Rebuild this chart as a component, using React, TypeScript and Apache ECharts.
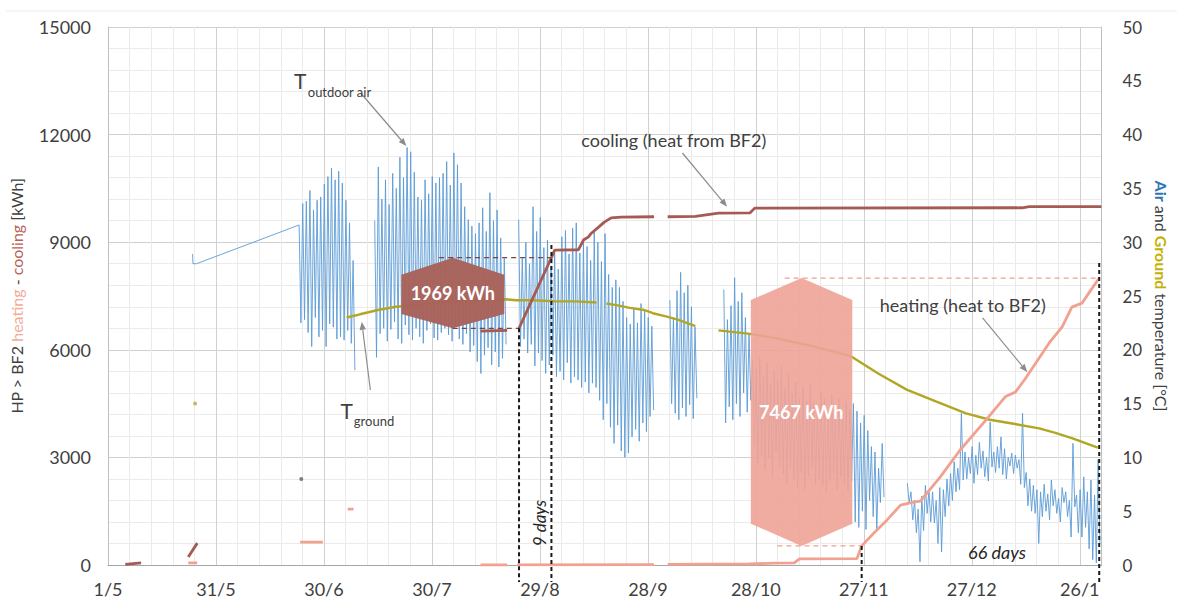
import React, { useEffect, useRef } from "react";
import * as echarts from "echarts";

const FONT = "Lato, 'Open Sans', sans-serif";

// x axis: days counted from 1 May, a label every 30 days, axis ends on 1 Feb
const dayTickLabels = ["1/5", "31/5", "30/6", "30/7", "29/8", "28/9", "28/10", "27/11", "27/12", "26/1"];
const X_MAX = 276;

// Outdoor air temperature [°C]: a few early readings, then daily highs / lows per logging period
const airEarly = [
  [23.5, 28.9],
  [23.6, 28.0],
  [24.6, 28.0],
];
const airJunStart = 53;
const airJunHigh = [31.6, 33.6, 33.8, 34.8, 33.0, 33.9, 34.2, 35.4, 36.1, 36.9, 35.8, 36.6, 35.5, 33.9, 31.8, 28.3];
const airJunLow = [22.5, 22.8, 21.6, 20.3, 23.0, 21.2, 21.8, 20.3, 22.4, 22.1, 21.0, 21.2, 20.9, 21.8, 20.6, 18.1];

const airJulStart = 74;
const airJulHigh = [32.0, 37.0, 34.0, 35.8, 33.5, 36.4, 35.0, 37.9, 36.0, 38.8, 38.4, 36.5, 34.2, 33.9, 35.8, 34.5, 36.1, 35.5, 36.0, 36.4, 37.5, 35.3, 38.3, 37.2, 35.5, 33.3, 32.1, 31.5, 30.8, 31.8, 33.2, 31.0, 34.6, 32.0, 33.0, 30.4, 28.5];
const airJulLow = [19.3, 21.5, 22.0, 20.8, 21.9, 22.6, 21.0, 20.6, 22.3, 21.4, 20.9, 22.0, 21.2, 20.6, 21.8, 22.4, 21.1, 20.9, 21.6, 22.0, 21.4, 20.8, 22.2, 21.0, 20.5, 21.5, 19.8, 20.4, 18.9, 17.8, 19.5, 20.2, 18.6, 19.8, 18.4, 19.2, 20.5];

const airAugStart = 114;
const airAugHigh = [32.1, 28.5, 30.0, 28.0, 33.3, 31.0, 32.3, 29.5, 30.2, 27.8, 29.0, 27.5, 30.5, 31.1, 28.9, 31.3, 31.8, 29.0, 30.1, 29.6, 28.3, 31.1, 30.0, 28.2, 30.8, 27.0, 25.8, 26.5, 25.8, 24.5, 23.0, 22.4, 23.8, 22.5, 24.3, 23.6, 23.0, 22.2];
const airAugLow = [20.3, 21.0, 19.7, 20.5, 18.5, 19.7, 19.0, 17.8, 18.6, 19.5, 17.5, 18.0, 17.2, 18.8, 16.9, 17.5, 17.2, 16.5, 17.0, 16.0, 16.9, 16.5, 15.3, 13.5, 15.0, 12.8, 11.3, 13.0, 10.6, 10.0, 10.4, 11.9, 12.6, 11.5, 13.2, 12.4, 13.8, 14.4];

const airOctStart = 156;
const airOctHigh = [24.6, 23.0, 25.5, 27.2, 25.3, 26.0, 24.0, 22.1];
const airOctLow = [15.0, 14.1, 13.5, 14.6, 13.8, 14.9, 13.6, 15.5];

const airNovStart = 171;
const airNovHigh = [25.6, 22.8, 24.1, 26.7, 24.5, 25.3, 23.0, 21.5, 19.0, 18.2, 19.3, 17.5, 18.8, 16.9, 18.0, 17.2, 18.5, 16.4, 17.8, 16.0, 17.0, 15.5, 16.6, 15.2, 16.8, 15.0, 14.6, 16.1, 15.4, 14.2, 15.8, 14.8, 15.5, 14.0, 15.2, 14.5];
const airNovLow = [13.2, 14.7, 13.5, 15.0, 13.8, 16.0, 14.2, 15.3, 11.0, 9.5, 10.2, 8.8, 9.9, 8.1, 10.5, 9.0, 8.4, 7.6, 9.2, 8.0, 7.2, 8.6, 7.0, 8.2, 9.0, 7.5, 8.0, 7.3, 6.8, 7.8, 8.5, 7.0, 8.2, 7.5, 6.9, 7.8];

const airDecStart = 207;
const airDecHigh = [15.0, 14.3, 13.2, 13.9, 12.5, 11.0, 10.5, 9.0, 11.3];
const airDecLow = [4.0, 3.5, 5.0, 3.3, 6.0, 4.5, 3.3, 5.8, 6.3];

const airWinStart = 222;
const airWinHigh = [7.6, 6.8, 6.0, 5.2, 6.4, 7.4, 7.0, 6.8, 6.0, 7.2, 7.0, 8.0, 8.5, 9.6, 9.0, 14.1, 10.5, 10.0, 11.0, 10.2, 11.4, 10.6, 10.0, 13.3, 10.5, 11.0, 11.9, 10.8, 10.0, 10.4, 10.2, 9.8, 14.1, 8.6, 8.0, 7.4, 7.0, 6.8, 7.5, 6.6, 7.9, 7.0, 6.2, 7.2, 6.8, 6.0, 11.3, 6.5, 7.0, 8.2, 6.8, 7.9, 6.5, 9.8];
const airWinLow = [5.8, 4.2, 3.0, 0.3, 3.2, 4.8, 4.0, 3.9, 2.0, 1.2, 4.5, 5.5, 6.0, 6.8, 7.0, 7.9, 8.0, 8.5, 7.6, 8.4, 9.0, 8.2, 7.8, 9.1, 8.6, 9.0, 8.4, 8.0, 9.2, 8.5, 9.0, 7.5, 7.2, 5.5, 5.0, 4.8, 2.0, 4.5, 5.0, 4.2, 5.5, 4.8, 4.0, 5.8, 4.5, 2.6, 5.4, 3.0, 2.6, 3.5, 1.5, 0.5, 0.2, 2.0];

// Ground temperature [°C], "-" marks a logging gap
const groundTemp = [
  [66.3, 23.0], [70, 23.3], [75, 23.7], [80, 24.0], [90, 24.3], [100, 24.6], [110.4, 24.7],
  [113.4, 24.6], [118, 24.6], [124.7, 24.5], [130, 24.5], [135.7, 24.4], [136.8, "-"],
  [138.5, 24.3], [142, 24.1], [145, 23.9], [148.9, 23.7], [151.4, 23.4], [155, 23.1], [158.3, 22.8], [163.2, 22.2], [166, "-"],
  [169.6, 21.8], [177.8, 21.5], [185.2, 21.1], [195, 20.4], [206.4, 19.4], [214, 17.8], [221.9, 16.3],
  [230, 15.2], [238.4, 14.1], [245, 13.5], [252, 13.1], [258.7, 12.7], [263, 12.3], [267.8, 11.8], [275, 10.9],
];
const groundSpot = [[24.2, 15.0]];

// Cumulative heat extracted from BF2 (cooling) [kWh]
const coolingCum = [
  [4.8, 20], [9.2, 60], [12, "-"],
  [22.3, 220], [24.8, 610], [30, "-"],
  [103.5, 6520], [110.9, 6540], [112, "-"],
  [114.2, 6600], [123.2, 8569], [124.1, 8780], [130.7, 8790], [132.1, 9060], [133.5, 9150], [134.3, 9250],
  [136.3, 9420], [137.9, 9560], [139.8, 9680], [142.6, 9700], [151.7, 9710], [153, "-"],
  [155.5, 9710], [163.2, 9720], [169.6, 9810], [178.4, 9820], [179.7, 9950], [254, 9960], [256, 9990], [276, 9990],
];
const coolingSpot = [[53.7, 2400]];

// Cumulative heat injected into BF2 (heating) [kWh]
const heatingCum = [
  [22.3, 60], [24.8, 60], [30, "-"],
  [53.4, 640], [59.7, 640], [62, "-"],
  [66.6, 1560], [68.2, 1560], [70, "-"],
  [103.5, 0], [110.9, 0], [112, "-"],
  [113.7, 5], [151.7, 10], [153, "-"],
  [155.5, 20], [178, 30], [185, 50], [190.7, 60], [192.1, 170], [208.1, 180],
  [209.4, 533], [212.8, 890], [216.4, 1250], [220.2, 1670], [223.8, 1750], [225.7, 1780], [231.2, 2450],
  [236.7, 3200], [243.9, 4040], [249.4, 4700], [252.1, 4820], [254.9, 5200], [261.5, 6190], [265.1, 6640],
  [267.8, 7190], [270.6, 7300], [272.5, 7580], [275.4, 8000],
];

// Marked periods: the 9-day cooling step and the 66-day heating run
const coolingStep = { startDay: 114.2, endDay: 123.2, low: 6600, high: 8569 };
const heatingRun = { startDay: 209.4, endDay: 275.4, low: 533, high: 8000 };

const COOL = "#a65a54";
const HEAT = "#f2a190";
const AIR = "#5b9bd5";
const GROUND = "#b0a724";
const TEXT = "#404040";
const ARROW = "#8c8c8c";

function dailySwing(start: number, highs: number[], lows: number[]) {
  const out: any[] = [];
  highs.forEach((h, i) => {
    out.push([start + i + 0.1, h]);
    out.push([start + i + 0.6, lows[i]]);
  });
  return out;
}

const gap = (d: number) => [d, "-"];

const airSeries = [
  ...airEarly,
  ...dailySwing(airJunStart, airJunHigh, airJunLow),
  gap(70),
  ...dailySwing(airJulStart, airJulHigh, airJulLow),
  gap(112),
  ...dailySwing(airAugStart, airAugHigh, airAugLow),
  gap(153),
  ...dailySwing(airOctStart, airOctHigh, airOctLow),
  gap(166),
  ...dailySwing(airNovStart, airNovHigh, airNovLow),
  ...dailySwing(airDecStart, airDecHigh, airDecLow),
  gap(218),
  ...dailySwing(airWinStart, airWinHigh, airWinLow),
];

function buildOption() {
  const labelStyle = { fontSize: 18, color: TEXT, fontFamily: FONT };
  return {
    animation: false,
    backgroundColor: "#ffffff",
    grid: { left: 107, right: 67, top: 27, bottom: 37 },
    xAxis: {
      type: "value",
      min: 0,
      max: X_MAX,
      interval: 30,
      axisLine: { show: true, lineStyle: { color: "#a6a6a6" } },
      axisTick: { show: false },
      axisLabel: {
        ...labelStyle,
        margin: 15,
        formatter: (v: number) => (v % 30 === 0 ? dayTickLabels[v / 30] ?? "" : ""),
      },
      splitLine: { show: true, lineStyle: { color: "#d0d0d0", width: 1 } },
      minorTick: { show: false, splitNumber: 5 },
      minorSplitLine: { show: true, lineStyle: { color: "#ebebeb", width: 1 } },
    },
    yAxis: [
      {
        type: "value",
        min: 0,
        max: 15000,
        interval: 3000,
        position: "left",
        name: "{a|HP > BF2 }{h|heating}{a| - }{c|cooling}{a| [kWh]}",
        nameLocation: "middle",
        nameGap: 84,
        nameTextStyle: {
          fontSize: 16,
          fontFamily: FONT,
          color: TEXT,
          rich: {
            a: { fontSize: 16, fontFamily: FONT, color: TEXT },
            h: { fontSize: 16, fontFamily: FONT, color: "#f4ab98" },
            c: { fontSize: 16, fontFamily: FONT, color: "#b85f58" },
          },
        },
        axisLine: { show: true, lineStyle: { color: "#bfbfbf" } },
        axisTick: { show: false },
        axisLabel: { ...labelStyle, margin: 17, formatter: (v: number) => String(v) },
        splitLine: { show: true, lineStyle: { color: "#d0d0d0", width: 1 } },
        minorTick: { show: false, splitNumber: 5 },
        minorSplitLine: { show: true, lineStyle: { color: "#ebebeb", width: 1 } },
      },
      {
        type: "value",
        min: 0,
        max: 50,
        interval: 5,
        position: "right",
        name: "{b|Air}{a| and }{g|Ground}{a| temperature [°C]}",
        nameLocation: "middle",
        nameRotate: -90,
        nameGap: 38,
        nameTextStyle: {
          fontSize: 16,
          fontFamily: FONT,
          color: TEXT,
          rich: {
            a: { fontSize: 16, fontFamily: FONT, color: TEXT },
            b: { fontSize: 16, fontFamily: FONT, color: "#2e75b6", fontWeight: "bold" },
            g: { fontSize: 16, fontFamily: FONT, color: "#c4b000", fontWeight: "bold" },
          },
        },
        axisLine: { show: true, lineStyle: { color: "#bfbfbf" } },
        axisTick: { show: false },
        axisLabel: { ...labelStyle, fontSize: 17, margin: 21, formatter: (v: number) => String(v) },
        splitLine: { show: false },
      },
    ],
    series: [
      {
        name: "T outdoor air",
        type: "line",
        yAxisIndex: 1,
        data: airSeries,
        showSymbol: false,
        silent: true,
        z: 2,
        lineStyle: { color: AIR, width: 0.9 },
      },
      {
        name: "T ground",
        type: "line",
        yAxisIndex: 1,
        data: groundTemp,
        showSymbol: false,
        silent: true,
        z: 3,
        lineStyle: { color: GROUND, width: 2.4 },
      },
      {
        name: "heating (heat to BF2)",
        type: "line",
        yAxisIndex: 0,
        data: heatingCum,
        showSymbol: false,
        silent: true,
        z: 5,
        lineStyle: { color: HEAT, width: 2.8 },
      },
      {
        name: "cooling (heat from BF2)",
        type: "line",
        yAxisIndex: 0,
        data: coolingCum,
        showSymbol: false,
        silent: true,
        z: 6,
        lineStyle: { color: COOL, width: 2.8 },
      },
      {
        name: "ground spot reading",
        type: "scatter",
        yAxisIndex: 1,
        data: groundSpot,
        symbolSize: 4,
        silent: true,
        itemStyle: { color: "#b5ab3a" },
      },
      {
        name: "cooling spot reading",
        type: "scatter",
        yAxisIndex: 0,
        data: coolingSpot,
        symbolSize: 4,
        silent: true,
        itemStyle: { color: "#6e5a58" },
      },
    ],
  };
}

function buildGraphic(px: (p: number[]) => number[]) {
  const g: any[] = [];
  const belowAxis = px([0, 0])[1] + 17;

  const text = (p: number[], str: string, font: string, fill: string, align = "center", extra: any = {}) => ({
    type: "text",
    x: p[0],
    y: p[1],
    silent: true,
    z: 40,
    ...extra,
    style: {
      text: str,
      font,
      fill,
      textAlign: align,
      textVerticalAlign: "middle",
      align,
      verticalAlign: "middle",
    },
  });

  const dashed = (a: number[], b: number[], stroke: string, width: number, dash: number[]) => ({
    type: "line",
    silent: true,
    z: 30,
    shape: { x1: a[0], y1: a[1], x2: b[0], y2: b[1] },
    style: { stroke, lineWidth: width, lineDash: dash },
  });

  const arrow = (from: number[], to: number[]) => {
    const a = px(from);
    const b = px(to);
    const ang = Math.atan2(b[1] - a[1], b[0] - a[0]);
    const L = 8;
    const W = 3.2;
    const bx = b[0] - L * Math.cos(ang);
    const by = b[1] - L * Math.sin(ang);
    const nx = -Math.sin(ang) * W;
    const ny = Math.cos(ang) * W;
    g.push({
      type: "line",
      silent: true,
      z: 35,
      shape: { x1: a[0], y1: a[1], x2: bx, y2: by },
      style: { stroke: ARROW, lineWidth: 1.2 },
    });
    g.push({
      type: "polygon",
      silent: true,
      z: 35,
      shape: { points: [[b[0], b[1]], [bx + nx, by + ny], [bx - nx, by - ny]] },
      style: { fill: ARROW },
    });
  };

  // hexagon badges spanning each marked energy step
  const hex = (x0: number, x1: number, low: number, high: number, shoulderTop: number, shoulderBottom: number) => {
    const xm = (x0 + x1) / 2;
    return [
      [x0, high - shoulderTop], [xm, high], [x1, high - shoulderTop],
      [x1, low + shoulderBottom], [xm, low], [x0, low + shoulderBottom],
    ].map(px);
  };

  // cooling step: 1969 kWh
  g.push({
    type: "polygon",
    silent: true,
    z: 20,
    shape: { points: hex(81.5, 110.1, coolingStep.low, coolingStep.high, 480, 400) },
    style: { fill: "#a8625a", opacity: 0.97 },
  });
  g.push(dashed(px([92, coolingStep.high]), px([coolingStep.endDay, coolingStep.high]), "#7a4540", 1.3, [5, 4]));
  g.push(dashed(px([95.8, coolingStep.low]), px([coolingStep.startDay, coolingStep.low]), "#7a4540", 1.3, [5, 4]));
  g.push(text(px([95.8, (coolingStep.low + coolingStep.high) / 2]), `${coolingStep.high - coolingStep.low} kWh`, `bold 18px ${FONT}`, "#ffffff"));

  // heating run: 7467 kWh
  g.push({
    type: "polygon",
    silent: true,
    z: 20,
    shape: { points: hex(178.6, 206.8, heatingRun.low, heatingRun.high, 612, 620) },
    style: { fill: "#f0a397", opacity: 0.9 },
  });
  g.push(dashed(px([188, heatingRun.high]), px([heatingRun.endDay, heatingRun.high]), "#f0a090", 1.3, [5, 4]));
  g.push(dashed(px([186, heatingRun.low]), px([heatingRun.startDay, heatingRun.low]), "#f0a090", 1.3, [5, 4]));
  g.push(text(px([192.6, (heatingRun.low + heatingRun.high) / 2]), `${heatingRun.high - heatingRun.low} kWh`, `bold 18px ${FONT}`, "#ffffff"));

  // period markers reaching below the date axis
  const vline = (day: number, top: number) => {
    const p = px([day, top]);
    g.push(dashed(p, [p[0], belowAxis], "#1a1a1a", 2, [4, 3]));
  };
  vline(coolingStep.startDay, coolingStep.low);
  vline(coolingStep.endDay, 8920);
  vline(heatingRun.startDay, heatingRun.low);
  vline(heatingRun.endDay, 8420);

  const nineDays = px([120, 1170]);
  g.push(text(nineDays, `${Math.round(coolingStep.endDay - coolingStep.startDay)} days`, `italic 17px ${FONT}`, "#262626", "center", { rotation: Math.PI / 2 }));
  g.push(text(px([247, 360]), `${Math.round(heatingRun.endDay - heatingRun.startDay)} days`, `italic 18px ${FONT}`, "#262626"));

  // series annotations
  g.push(text(px([51.7, 13522]), "T", `21px ${FONT}`, TEXT, "left"));
  g.push(text(px([55.5, 13200]), "outdoor air", `13px ${FONT}`, TEXT, "left"));
  arrow([70.2, 13160], [82.9, 11680]);

  g.push(text(px([64.6, 4321]), "T", `21px ${FONT}`, TEXT, "left"));
  g.push(text(px([68.3, 4020]), "ground", `13px ${FONT}`, TEXT, "left"));
  arrow([72.9, 4879], [70.5, 6780]);

  g.push(text(px([157.2, 11850]), "cooling (heat from BF2)", `18px ${FONT}`, TEXT));
  arrow([159.6, 11487], [172, 9990]);

  g.push(text(px([237.5, 7250]), "heating (heat to BF2)", `18px ${FONT}`, TEXT));
  arrow([243, 6887], [255.4, 5380]);

  // faint chart-area frame line at the top
  g.push({
    type: "line",
    silent: true,
    z: 1,
    shape: { x1: 6, y1: 11, x2: 1177, y2: 11 },
    style: { stroke: "#ececec", lineWidth: 1 },
  });

  return g;
}

export default function App() {
  const ref = useRef<HTMLDivElement>(null);

  useEffect(() => {
    if (!ref.current) return;
    const chart = echarts.init(ref.current, null, { renderer: "svg" });
    chart.setOption(buildOption() as any);
    const px = (p: number[]) => chart.convertToPixel({ xAxisIndex: 0, yAxisIndex: 0 } as any, p) as number[];
    chart.setOption({ graphic: { elements: buildGraphic(px) } } as any);
    return () => chart.dispose();
  }, []);

  return (
    <div
      ref={ref}
      style={{ position: "fixed", left: 0, top: 0, width: 1177, height: 602, background: "#ffffff" }}
    />
  );
}
